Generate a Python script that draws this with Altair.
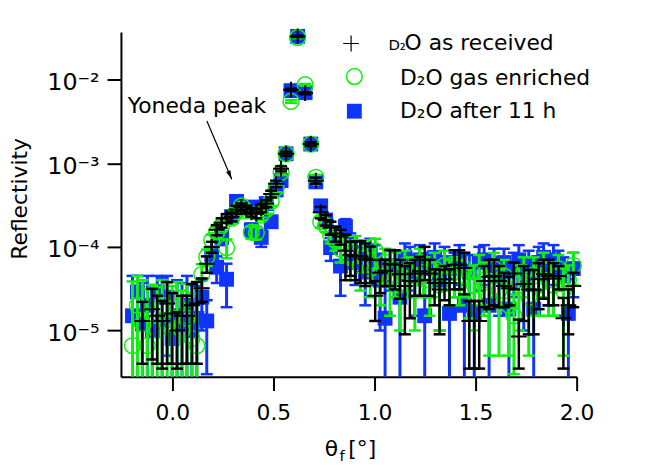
import altair as alt
import numpy as np
import pandas as pd

# ---------------- data ----------------
X_CENTRAL = [-0.197, -0.1725, -0.148, -0.1235, -0.099, -0.0745, -0.05, -0.0255, -0.001,
             0.0235, 0.048, 0.0725, 0.097, 0.1215, 0.146, 0.1705, 0.195, 0.2195, 0.244,
             0.2685, 0.293, 0.3175, 0.342, 0.3665, 0.391, 0.4155, 0.44, 0.4645, 0.489,
             0.5135, 0.538, 0.563, 0.587, 0.62, 0.657, 0.685, 0.71]
X_RIGHT = [0.734, 0.7585, 0.783, 0.8075, 0.832, 0.8565, 0.881, 0.9055, 0.93, 0.9545,
           0.979, 1.0035, 1.028, 1.0525, 1.077, 1.1015, 1.126, 1.1505, 1.175, 1.1995,
           1.224, 1.2485, 1.273, 1.2975, 1.322, 1.3465, 1.371, 1.3955, 1.42, 1.4445,
           1.469, 1.4935, 1.518, 1.5425, 1.567, 1.5915, 1.616, 1.6405, 1.665, 1.6895,
           1.714, 1.7385, 1.763, 1.7875, 1.812, 1.8365, 1.861, 1.8855, 1.91, 1.9345,
           1.959, 1.9835]
THETA = X_CENTRAL + X_RIGHT

# D2O as received (black +)
REC_Y = [None, None, 1.3e-5, None, 1.8e-5, 1.5e-5, 1.3e-5, 2.1e-5, 1.6e-5,
         1.0e-5, 1.5e-5, 1.5e-5, 2.0e-5, 2.1e-5, 3.2e-5, 6.3e-5, 1.0e-4, 1.6e-4, 1.95e-4,
         2.2e-4, 2.3e-4, 2.8e-4, 3.0e-4, 2.8e-4, 2.6e-4, 2.5e-4, 2.9e-4, 3.3e-4, 4.3e-4,
         5.7e-4, 8.6e-4, 1.3e-3, 7.6e-3, 3.3e-2, 6.9e-3, 1.7e-3, 6.2e-4,
         2.6e-4, 2.1e-4, 1.7e-4, 1.45e-4, 1.33e-4, 9.0e-5, 8.0e-5, 7.8e-5, 7.7e-5, 7.2e-5,
         6.9e-5, 2.6e-5, 4.9e-5, 5.2e-5, 6.3e-5, 6.1e-5, 4.7e-5, 3.4e-5, 3.9e-5, 4.8e-5,
         5.1e-5, 7.0e-5, 4.8e-5, 3.7e-5, 3.1e-5, 4.1e-5, 3.7e-5, 6.1e-5, 6.1e-5, 5.6e-5,
         1.3e-5, 1.3e-5, 1.3e-5, 3.9e-5, 4.4e-5, 4.5e-5, 3.9e-5, 3.4e-5, 3.2e-5, 4.8e-5,
         8.5e-6, 3.6e-5, 3.1e-5, 3.1e-5, 4.1e-5, 4.7e-5, 4.5e-5, 4.2e-5, 4.5e-5, 1.4e-5,
         2.0e-5, 3.4e-5]
REC_E = [None, None, 9e-6, None, 1.35e-5, 1.1e-5, 9.5e-6, 1.7e-5, 1.2e-5,
         6.5e-6, 1.1e-5, 1.1e-5, 1.6e-5, 1.7e-5, 1.0e-5, 1.4e-5, 1.5e-5, 2.2e-5, 2.5e-5,
         2.7e-5, 2.8e-5, 3e-5, 3e-5, 3e-5, 3e-5, 3e-5, 3e-5, 3e-5, 4e-5,
         5e-5, 6e-5, 8e-5, 2e-4, 6e-4, 2e-4, 9e-5, 5e-5,
         4e-5, 3e-5, 3e-5, 3e-5, 2.7e-5, 5e-5, 3.5e-5, 3.8e-5, 4e-5, 3.8e-5,
         3.2e-5, 1.3e-5, 2.1e-5, 1.8e-5, 2.9e-5, 3e-5, 2.3e-5, 2.5e-5, 2.5e-5, 2.2e-5,
         2.5e-5, 3e-5, 2.2e-5, 1.7e-5, 2.2e-5, 1.8e-5, 1.7e-5, 3e-5, 3e-5, 2.9e-5,
         9.5e-6, 9.5e-6, 9.5e-6, 2e-5, 2.6e-5, 2.5e-5, 2e-5, 1.5e-5, 1.2e-5, 1.7e-5,
         5e-6, 2.3e-5, 2.2e-5, 2.2e-5, 2.3e-5, 2.3e-5, 2.5e-5, 2.2e-5, 1.4e-5, 1.05e-5,
         1.1e-5, 1.5e-5]

# D2O gas enriched (green o)
GAS_Y = [6.6e-6, 2.0e-5, 1.2e-5, 6.6e-6, 1.5e-5, 1.0e-5, 2.0e-5, 1.2e-5, 1.4e-5,
         2.0e-5, 1.0e-5, 1.4e-5, 8.0e-6, 6.6e-6, 4.7e-5, 7.6e-5, 1.2e-4, 1.5e-4, 1.8e-4,
         9.8e-5, 2.2e-4, 2.6e-4, 3.1e-4, 2.7e-4, 1.5e-4, 1.48e-4, 2.4e-4, 2.8e-4, 3.5e-4,
         5.0e-4, 7.8e-4, 1.3e-3, 5.5e-3, 3.2e-2, 8.7e-3, 1.7e-3, 6.8e-4,
         2.0e-4, 1.8e-4, 1.4e-4, 1.2e-4, 9.5e-5, 1.0e-4, 7.5e-5, 1.0e-4, 6.0e-5, 8.5e-5,
         5.5e-5, 9.0e-5, 4.5e-5, 6.5e-5, 4.0e-5, 5.5e-5, 3.5e-5, 6.0e-5, 5.0e-5, 3.0e-5,
         6.5e-5, 5.0e-5, 4.0e-5, 5.5e-5, 3.5e-5, 6.0e-5, 4.5e-5, 5.0e-5, 4.5e-5, 5.5e-5,
         3.4e-5, 3.5e-5, 5.0e-5, 4.0e-5, 2.5e-5, 5.5e-5, 3.0e-5, 4.5e-5, 2.0e-5, 1.5e-5,
         3.5e-5, 5.0e-5, 2.5e-5, 4.5e-5, 3.5e-5, 5.5e-5, 4.0e-5, 3.5e-5, 5.5e-5, 3.0e-5,
         4.0e-5, 6.0e-5]
GAS_E = [3.2e-5, 2.5e-5, 2.8e-5, 2.5e-5, 2.0e-5, 2.3e-5, 2.0e-5, 2.5e-5, 2.0e-5,
         1.8e-5, 2.0e-5, 2.2e-5, 2.0e-5, 2.5e-5, 1.5e-5, 1.7e-5, 2e-5, 2.2e-5, 2.5e-5,
         2.5e-5, 3e-5, 3e-5, 3.5e-5, 3e-5, 2.5e-5, 2.5e-5, 3e-5, 3e-5, 4e-5,
         5e-5, 6e-5, 8e-5, 2e-4, 6e-4, 2e-4, 9e-5, 5e-5,
         3e-5, 3e-5, 3e-5, 3e-5, 3e-5, 3.5e-5, 3.5e-5, 3.5e-5, 3e-5, 3.5e-5,
         3e-5, 3.5e-5, 2.5e-5, 3e-5, 2.5e-5, 3e-5, 2.5e-5, 3e-5, 2.5e-5, 2e-5,
         3e-5, 2.5e-5, 2.5e-5, 3e-5, 2.5e-5, 3e-5, 2.5e-5, 2.5e-5, 2.5e-5, 3e-5,
         2e-5, 2.5e-5, 3e-5, 2.5e-5, 2e-5, 3e-5, 2.5e-5, 2.5e-5, 1.5e-5, 1.2e-5,
         2.5e-5, 2.5e-5, 2e-5, 3e-5, 2e-5, 3e-5, 2.5e-5, 2e-5, 2.5e-5, 2.5e-5,
         2e-5, 2.5e-5]

# D2O after 11 h (blue squares)
H11_Y = [1.5e-5, 2.9e-5, 1.2e-5, 2.0e-5, 1.0e-5, 2.9e-5, 1.3e-5, 2.5e-5, 8.0e-6,
         1.5e-5, 1.2e-5, 2.0e-5, 1.0e-5, 1.4e-5, 2.5e-5, 1.3e-5, 8.0e-5, 5.7e-5, 1.3e-4,
         4.1e-5, 2.3e-4, 3.5e-4, 3.0e-4, 2.9e-4, 1.6e-4, 3.0e-4, 1.3e-4, 3.3e-4, 2.0e-4,
         4.8e-4, 6.2e-4, 1.3e-3, 7.4e-3, 3.3e-2, 7.0e-3, 1.7e-3, 6.0e-4,
         3.1e-4, 2.1e-4, 9.8e-5, 1.3e-4, 5.9e-5, 1.75e-4, 1.1e-4, 6.5e-5, 8.5e-5, 5.0e-5,
         9.0e-5, 7.0e-5, 4.0e-5, 1.4e-5, 6.0e-5, 5.5e-5, 2.5e-5, 7.5e-5, 6.5e-5, 4.5e-5,
         7.0e-5, 1.5e-5, 5.5e-5, 7.5e-5, 4.0e-5, 6.5e-5, 1.6e-5, 5.5e-5, 7.0e-5, 2.0e-5,
         5.0e-5, 1.6e-5, 6.5e-5, 7.0e-5, 2.0e-5, 6.0e-5, 4.5e-5, 6.5e-5, 1.8e-5, 5.5e-5,
         7.0e-5, 4.0e-5, 6.0e-5, 1.8e-5, 6.5e-5, 7.5e-5, 5.0e-5, 7.0e-5, 6.0e-5, 4.5e-5,
         1.6e-5, 5.5e-5]
H11_E = [3e-5, 1.6e-5, 2.5e-5, 2.5e-5, 2.5e-5, 1.6e-5, 3e-5, 2e-5, 2e-5,
         2.5e-5, 2.5e-5, 2.5e-5, 2.5e-5, 2e-5, 1.5e-5, 1e-5, 2e-5, 2e-5, 2.5e-5,
         2.2e-5, 3e-5, 3.5e-5, 3.5e-5, 3.5e-5, 3e-5, 3.5e-5, 3e-5, 3.5e-5, 3e-5,
         5e-5, 6e-5, 8e-5, 2e-4, 6e-4, 2e-4, 9e-5, 5e-5,
         4e-5, 3e-5, 3e-5, 3e-5, 3.3e-5, 4e-5, 3.5e-5, 3e-5, 3.5e-5, 3e-5,
         3.5e-5, 3.5e-5, 3e-5, 2.5e-5, 3e-5, 3e-5, 2.5e-5, 3.5e-5, 3.5e-5, 3e-5,
         3.5e-5, 2.5e-5, 3e-5, 3.5e-5, 3e-5, 3.5e-5, 2.5e-5, 3e-5, 3.5e-5, 2.5e-5,
         3e-5, 2.8e-5, 3.5e-5, 3.5e-5, 2.5e-5, 3.5e-5, 3e-5, 3e-5, 2.5e-5, 3e-5,
         3.5e-5, 3e-5, 3e-5, 2.5e-5, 3.5e-5, 3.5e-5, 3e-5, 3.5e-5, 3e-5, 3e-5,
         2.5e-5, 3e-5]

ARROW_FROM = (0.171, 3.2e-3)
ARROW_TO = (0.294, 6.45e-4)

X_DOMAIN = [-0.254, 2.0]
Y_DOMAIN = [2.8e-6, 3.73e-2]
X_TICKS = [0.0, 0.5, 1.0, 1.5, 2.0]
Y_TICKS = [1e-5, 1e-4, 1e-3, 1e-2]

BLACK = "#000000"
GREEN = "#11ee11"
BLUE = "#1034ff"
FONT = "DejaVu Sans"


def frame(ys, es):
    d = pd.DataFrame({"x": THETA, "y": ys, "err": es}).astype(float).dropna()
    d["lo"] = np.maximum(d["y"] - d["err"], Y_DOMAIN[0])
    d["hi"] = d["y"] + d["err"]
    d["locap"] = (d["y"] - d["err"]) > Y_DOMAIN[0]
    return d


xscale = alt.Scale(domain=X_DOMAIN, nice=False, zero=False)
yscale = alt.Scale(type="log", domain=Y_DOMAIN, nice=False)
xaxis = alt.Axis(values=X_TICKS, format=".1f", title=None, grid=False, tickSize=14,
                 tickWidth=2, domainWidth=2, domainColor=BLACK, tickColor=BLACK,
                 labelFontSize=22, labelPadding=12, labelFlush=False, labelOverlap=False,
                 labelFont=FONT, labelColor=BLACK)
sup = ("round(log(datum.value)/LN10) == -2 ? '⁻²' : round(log(datum.value)/LN10) == -3 ? '⁻³'"
       " : round(log(datum.value)/LN10) == -4 ? '⁻⁴' : '⁻⁵'")
yaxis = alt.Axis(values=Y_TICKS, labelExpr="'10' + (" + sup + ")", title=None, grid=False,
                 tickSize=14, tickWidth=2, domainWidth=2, domainColor=BLACK, tickColor=BLACK,
                 labelFontSize=24, labelPadding=8, labelFlush=False, labelOverlap=False,
                 labelOffset=3, labelFont=FONT, labelColor=BLACK)

X = alt.X("x:Q", scale=xscale, axis=xaxis)


def Y(field):
    return alt.Y(field, scale=yscale, axis=yaxis)


def series(d, color, bar_w, marker):
    base = alt.Chart(d)
    bars = base.mark_rule(color=color, strokeWidth=bar_w).encode(x=X, y=Y("lo:Q"), y2="hi:Q")
    cap_hi = base.mark_tick(orient="horizontal", color=color, size=12, thickness=2.5,
                            opacity=1).encode(x=X, y=Y("hi:Q"))
    cap_lo = base.transform_filter("datum.locap").mark_tick(
        orient="horizontal", color=color, size=12, thickness=2.5, opacity=1
    ).encode(x=X, y=Y("lo:Q"))
    pts = marker(base).encode(x=X, y=Y("y:Q"))
    return [bars, cap_hi, cap_lo, pts]


PLUS = "M-1,0H1M0,-1V1"

blue_layers = series(frame(H11_Y, H11_E), BLUE, 3,
                     lambda b: b.mark_square(color=BLUE, size=225, opacity=1))
green_layers = series(frame(GAS_Y, GAS_E), GREEN, 3,
                      lambda b: b.mark_point(shape="circle", color=GREEN, filled=False,
                                             size=256, strokeWidth=1.5, opacity=1))
black_layers = series(frame(REC_Y, REC_E), BLACK, 2.5,
                      lambda b: b.mark_point(shape=PLUS, color=BLACK, filled=False,
                                             size=256, strokeWidth=2, opacity=1))

# annotation arrow
arrow_df = pd.DataFrame({"x": [ARROW_FROM[0]], "y": [ARROW_FROM[1]],
                         "x2": [ARROW_TO[0]], "y2": [ARROW_TO[1]]})
arrow_line = alt.Chart(arrow_df).mark_rule(color=BLACK, strokeWidth=1.2).encode(
    x=X, y=Y("y:Q"), x2="x2:Q", y2="y2:Q")
arrow_head = alt.Chart(arrow_df).mark_point(
    shape="M0,0L-0.45,-1.7L0.45,-1.7Z", filled=True, color=BLACK, size=110, angle=336.7,
    opacity=1).encode(x=alt.X("x2:Q", scale=xscale, axis=xaxis), y=Y("y2:Q"))


def label(text, x, y, size=22, align="left", baseline="alphabetic", angle=0):
    return alt.Chart(pd.DataFrame({"t": [text]})).mark_text(
        font=FONT, fontSize=size, color=BLACK, align=align, baseline=baseline, angle=angle
    ).encode(x=alt.value(x), y=alt.value(y), text="t:N")


texts = [
    label("Yoneda peak", 7, 81.7),
    label("Reflectivity", -101.5, 168.5, align="center", baseline="middle", angle=270),
    label("θ", 212.5, 428, align="center"),
    label("f", 220.5, 433, size=15),
    label("[°]", 229.5, 428),
    label("D₂", 270, 18.3, size=15),
    label("O as received", 286.3, 18.3),
    label("D₂O gas enriched", 281.6, 53.3),
    label("D₂O after 11 h", 281.6, 86.7),
]

one = pd.DataFrame({"k": [0]})
legend_marks = [
    alt.Chart(one).mark_point(shape=PLUS, color=BLACK, filled=False, size=256,
                              strokeWidth=1.2, opacity=1).encode(x=alt.value(232.3), y=alt.value(11.7)),
    alt.Chart(one).mark_point(shape="circle", color=GREEN, filled=False, size=256,
                              strokeWidth=1.5, opacity=1).encode(x=alt.value(235.6), y=alt.value(45)),
    alt.Chart(one).mark_square(color=BLUE, size=225, opacity=1).encode(
        x=alt.value(235.6), y=alt.value(80)),
]

chart = alt.layer(
    *blue_layers, *green_layers, *black_layers, arrow_line, arrow_head, *texts, *legend_marks
).properties(
    width=460, height=348,
    padding={"left": 114, "top": 22, "right": 70, "bottom": 90},
    autosize=alt.AutoSizeParams(type="none"),
).configure_view(stroke=None)

chart.save("out.html", embed_options={"renderer": "svg", "actions": False})
